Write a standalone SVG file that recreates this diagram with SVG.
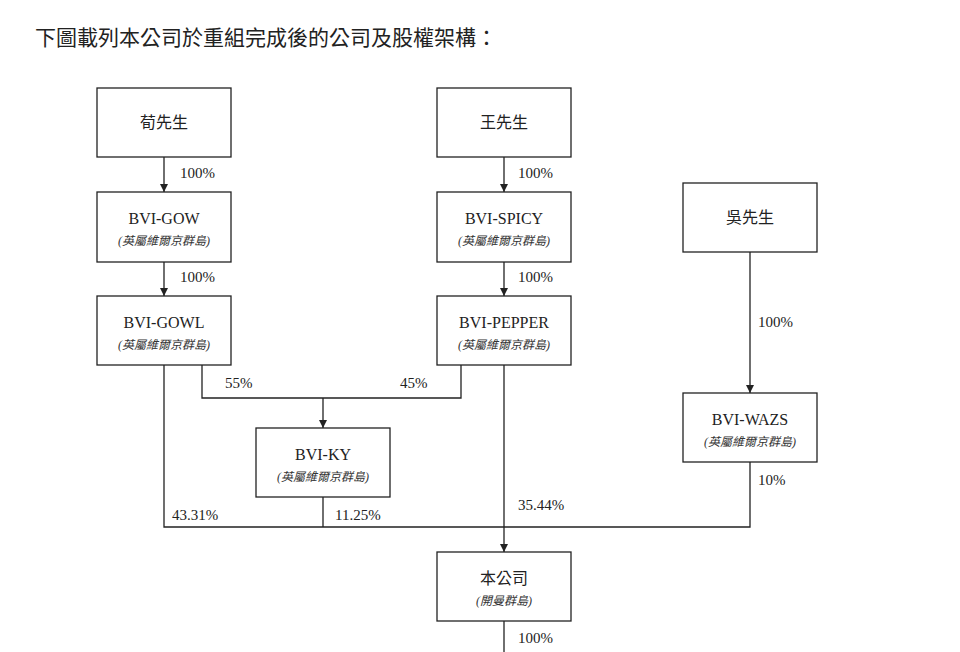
<svg xmlns="http://www.w3.org/2000/svg" width="960" height="652" viewBox="0 0 960 652">
<style>
.b{fill:#fff;stroke:#222;stroke-width:1.3}
.t{font-family:"Liberation Serif","Noto Sans CJK TC",serif;font-size:16px;fill:#222;text-anchor:middle}
.s{font-family:"Liberation Serif","Noto Sans CJK TC",serif;font-size:12px;font-style:italic;fill:#333;text-anchor:middle}
.p{font-family:"Liberation Serif",serif;font-size:15px;fill:#222}
.l{fill:none;stroke:#222;stroke-width:1.3}
</style>
<defs><marker id="a" viewBox="0 0 10 10" refX="10" refY="5" markerWidth="8" markerHeight="8" orient="auto" markerUnits="userSpaceOnUse"><path d="M0,0L10,5L0,10z" fill="#222"/></marker></defs>
<rect width="960" height="652" fill="#fff"/>
<text x="35" y="45" style="font-family:'Noto Sans CJK TC',serif;font-size:21px;fill:#222">下圖載列本公司於重組完成後的公司及股權架構：</text>
<g id="connectors">
<path class="l" d="M164,157V192" marker-end="url(#a)"/>
<path class="l" d="M164,262V296" marker-end="url(#a)"/>
<path class="l" d="M504,157V192" marker-end="url(#a)"/>
<path class="l" d="M504,262V296" marker-end="url(#a)"/>
<path class="l" d="M750,252V393" marker-end="url(#a)"/>
<path class="l" d="M202,365V398H461V365"/>
<path class="l" d="M323,398V428" marker-end="url(#a)"/>
<path class="l" d="M164,365V527H750V462"/>
<path class="l" d="M323,497V527"/>
<path class="l" d="M504,365V552" marker-end="url(#a)"/>
<path class="l" d="M504,621V652"/>
<text class="p" x="180" y="178">100%</text>
<text class="p" x="180" y="282">100%</text>
<text class="p" x="518" y="178">100%</text>
<text class="p" x="518" y="282">100%</text>
<text class="p" x="758" y="327">100%</text>
<text class="p" x="225" y="388">55%</text>
<text class="p" x="400" y="388">45%</text>
<text class="p" x="172" y="520">43.31%</text>
<text class="p" x="335" y="520">11.25%</text>
<text class="p" x="518" y="510">35.44%</text>
<text class="p" x="758" y="485">10%</text>
<text class="p" x="518" y="643">100%</text>
</g>
<g id="gou"><rect class="b" x="97" y="88" width="134" height="69"/><text class="t" x="164" y="128">荀先生</text></g>
<g id="wang"><rect class="b" x="437" y="88" width="134" height="69"/><text class="t" x="504" y="128">王先生</text></g>
<g id="wu"><rect class="b" x="683" y="183" width="134" height="69"/><text class="t" x="750" y="223">吳先生</text></g>
<g id="gow"><rect class="b" x="97" y="192" width="134" height="70"/><text class="t" x="164" y="224">BVI-GOW</text><text class="s" x="164" y="245">(英屬維爾京群島)</text></g>
<g id="spicy"><rect class="b" x="437" y="192" width="134" height="70"/><text class="t" x="504" y="224">BVI-SPICY</text><text class="s" x="504" y="245">(英屬維爾京群島)</text></g>
<g id="gowl"><rect class="b" x="97" y="296" width="134" height="69"/><text class="t" x="164" y="328">BVI-GOWL</text><text class="s" x="164" y="349">(英屬維爾京群島)</text></g>
<g id="pepper"><rect class="b" x="437" y="296" width="134" height="69"/><text class="t" x="504" y="328">BVI-PEPPER</text><text class="s" x="504" y="349">(英屬維爾京群島)</text></g>
<g id="ky"><rect class="b" x="256" y="428" width="134" height="69"/><text class="t" x="323" y="460">BVI-KY</text><text class="s" x="323" y="481">(英屬維爾京群島)</text></g>
<g id="wazs"><rect class="b" x="683" y="393" width="134" height="69"/><text class="t" x="750" y="425">BVI-WAZS</text><text class="s" x="750" y="446">(英屬維爾京群島)</text></g>
<g id="company"><rect class="b" x="437" y="552" width="134" height="69"/><text class="t" x="504" y="584">本公司</text><text class="s" x="504" y="605">(開曼群島)</text></g>
</svg>
